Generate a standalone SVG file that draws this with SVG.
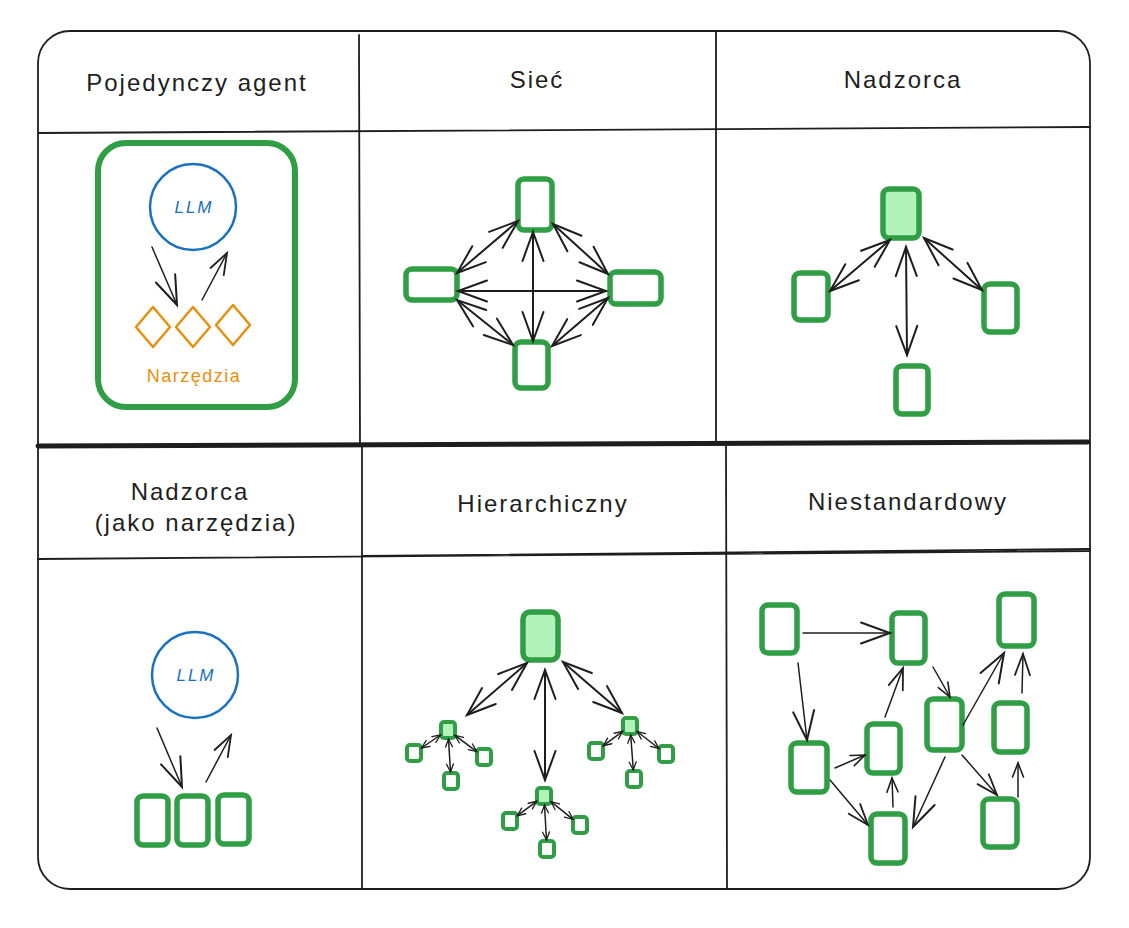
<svg xmlns="http://www.w3.org/2000/svg" width="1129" height="928" viewBox="0 0 1129 928">
<style>
.frame{fill:none;stroke:#1e1e1e;stroke-width:1.8;stroke-linecap:round}
.title{font-family:"Liberation Sans",Arial,sans-serif;font-size:24px;letter-spacing:2px;fill:#1e1e1e;text-anchor:middle}
.node{fill:#ffffff;stroke:#2f9e44;stroke-width:5.5;stroke-linejoin:round}
.node.main{fill:#b2f2bb}
.mini{fill:#ffffff;stroke:#2f9e44;stroke-width:4}
.mini.main{fill:#b2f2bb}
.llm{fill:none;stroke:#1971c2;stroke-width:2.5}
.llmt{font-family:"Liberation Sans",Arial,sans-serif;font-size:17px;font-style:italic;letter-spacing:2px;fill:#1971c2;text-anchor:middle}
.tool{fill:none;stroke:#e8900c;stroke-width:2.5;stroke-linejoin:round}
.toolt{font-family:"Liberation Sans",Arial,sans-serif;font-size:18px;letter-spacing:1.5px;fill:#e8900c;text-anchor:middle}
.e{fill:none;stroke:#1e1e1e;stroke-width:2;stroke-linecap:round}
.e2{fill:none;stroke:#1e1e1e;stroke-width:1.5;stroke-linecap:round}
</style>
<defs>
<marker id="ah-lg" markerUnits="userSpaceOnUse" markerWidth="1" markerHeight="1" refX="0" refY="0" orient="auto-start-reverse" overflow="visible"><path d="M-29 -10.5 L0 0 L-29 10.5" fill="none" stroke="#1e1e1e" stroke-width="2" stroke-linecap="round"/></marker>
<marker id="ah-md" markerUnits="userSpaceOnUse" markerWidth="1" markerHeight="1" refX="0" refY="0" orient="auto-start-reverse" overflow="visible"><path d="M-21 -7.5 L0 0 L-21 7.5" fill="none" stroke="#1e1e1e" stroke-width="1.8" stroke-linecap="round"/></marker>
<marker id="ah-sm" markerUnits="userSpaceOnUse" markerWidth="1" markerHeight="1" refX="0" refY="0" orient="auto-start-reverse" overflow="visible"><path d="M-14 -5.5 L0 0 L-14 5.5" fill="none" stroke="#1e1e1e" stroke-width="1.6" stroke-linecap="round"/></marker>
<marker id="ah-xs" markerUnits="userSpaceOnUse" markerWidth="1" markerHeight="1" refX="0" refY="0" orient="auto-start-reverse" overflow="visible"><path d="M-8 -3.5 L0 0 L-8 3.5" fill="none" stroke="#1e1e1e" stroke-width="1.3" stroke-linecap="round"/></marker>
</defs>
<rect width="1129" height="928" fill="#ffffff"/>

<g id="frame">
<rect class="frame" x="38" y="31" width="1052" height="858" rx="32"/>
<path class="frame" d="M359 35 L360 444 M362 446 L362 889 M716 31 L716 444 M726 446 L727 889"/>
<path class="frame" d="M38 133 L1090 127"/>
<path class="frame" d="M38 446 L1088 442" style="stroke-width:5"/>
<path class="frame" d="M38 559 L1090 551 M362 556 L1090 549"/>
</g>

<g id="titles">
<text class="title" x="197" y="91">Pojedynczy agent</text>
<text class="title" x="537" y="88">Sieć</text>
<text class="title" x="903" y="88">Nadzorca</text>
<text class="title" x="190" y="500">Nadzorca</text>
<text class="title" x="196" y="531">(jako narzędzia)</text>
<text class="title" x="543" y="512">Hierarchiczny</text>
<text class="title" x="908" y="510">Niestandardowy</text>
</g>

<!-- Pojedynczy agent -->
<g id="single-agent">
<rect x="98" y="143" width="197" height="264" rx="28" fill="none" stroke="#2f9e44" stroke-width="6"/>
</g>
<g id="single-llm">
<circle class="llm" cx="193" cy="207" r="43"/>
<text class="llmt" x="194" y="213">LLM</text>
</g>
<g id="single-tools">
<path class="tool" d="M153 307 L170 327 L153 347 L136 327 Z"/>
<path class="tool" d="M193 307 L210 327 L193 347 L176 327 Z"/>
<path class="tool" d="M233 305 L250 325 L233 345 L216 325 Z"/>
<text class="toolt" x="194" y="382">Narzędzia</text>
</g>

<!-- Sieć -->
<g id="siec-top"><rect class="node" x="518" y="179" width="34" height="51" rx="6"/></g>
<g id="siec-left"><rect class="node" x="406" y="269" width="51" height="31" rx="6"/></g>
<g id="siec-right"><rect class="node" x="610" y="272" width="51" height="32" rx="6"/></g>
<g id="siec-bottom"><rect class="node" x="515" y="342" width="33" height="46" rx="6"/></g>

<!-- Nadzorca -->
<g id="nadz-top"><rect class="node main" x="883" y="189" width="36" height="49" rx="6"/></g>
<g id="nadz-left"><rect class="node" x="794" y="273" width="34" height="47" rx="6"/></g>
<g id="nadz-right"><rect class="node" x="984" y="284" width="33" height="48" rx="6"/></g>
<g id="nadz-bottom"><rect class="node" x="896" y="366" width="32" height="48" rx="6"/></g>

<!-- Nadzorca (jako narzędzia) -->
<g id="nt-llm">
<circle class="llm" cx="195" cy="675" r="43"/>
<text class="llmt" x="196" y="681">LLM</text>
</g>
<g id="nt-a1"><rect class="node" x="137" y="796" width="31" height="49" rx="6"/></g>
<g id="nt-a2"><rect class="node" x="177" y="796" width="31" height="49" rx="6"/></g>
<g id="nt-a3"><rect class="node" x="218" y="795" width="31" height="49" rx="6"/></g>

<!-- Hierarchiczny -->
<g id="h-root"><rect class="node main" x="523" y="612" width="35" height="48" rx="7"/></g>
<g id="h-l"><rect class="mini main" x="441" y="722" width="14" height="16" rx="3"/></g>
<g id="h-l1"><rect class="mini" x="407" y="745" width="14" height="16" rx="3"/></g>
<g id="h-l2"><rect class="mini" x="444" y="773" width="14" height="16" rx="3"/></g>
<g id="h-l3"><rect class="mini" x="477" y="749" width="14" height="16" rx="3"/></g>
<g id="h-m"><rect class="mini main" x="537" y="788" width="14" height="16" rx="3"/></g>
<g id="h-m1"><rect class="mini" x="503" y="813" width="14" height="16" rx="3"/></g>
<g id="h-m2"><rect class="mini" x="540" y="841" width="14" height="16" rx="3"/></g>
<g id="h-m3"><rect class="mini" x="573" y="817" width="14" height="16" rx="3"/></g>
<g id="h-r"><rect class="mini main" x="623" y="718" width="14" height="16" rx="3"/></g>
<g id="h-r1"><rect class="mini" x="589" y="743" width="14" height="16" rx="3"/></g>
<g id="h-r2"><rect class="mini" x="627" y="771" width="14" height="16" rx="3"/></g>
<g id="h-r3"><rect class="mini" x="659" y="746" width="14" height="16" rx="3"/></g>

<!-- Niestandardowy -->
<g id="c-a"><rect class="node" x="762" y="605" width="35" height="48" rx="6"/></g>
<g id="c-b"><rect class="node" x="892" y="613" width="33" height="50" rx="6"/></g>
<g id="c-c"><rect class="node" x="999" y="594" width="35" height="52" rx="6"/></g>
<g id="c-d"><rect class="node" x="791" y="743" width="36" height="49" rx="6"/></g>
<g id="c-e"><rect class="node" x="867" y="724" width="33" height="49" rx="6"/></g>
<g id="c-f"><rect class="node" x="927" y="699" width="35" height="51" rx="6"/></g>
<g id="c-g"><rect class="node" x="994" y="703" width="33" height="49" rx="6"/></g>
<g id="c-h"><rect class="node" x="871" y="814" width="34" height="49" rx="6"/></g>
<g id="c-i"><rect class="node" x="983" y="799" width="34" height="48" rx="6"/></g>

<g id="connectors">
<!-- single agent -->
<path class="e2" d="M152 247 L177 305" marker-end="url(#ah-lg)"/>
<path class="e2" d="M202 300 L227 253" marker-end="url(#ah-md)"/>
<!-- Sieć -->
<path class="e" d="M457 273 L518 221" marker-start="url(#ah-lg)" marker-end="url(#ah-lg)"/>
<path class="e" d="M553 224 L608 274" marker-start="url(#ah-lg)" marker-end="url(#ah-lg)"/>
<path class="e" d="M608 298 L552 346" marker-start="url(#ah-lg)" marker-end="url(#ah-lg)"/>
<path class="e" d="M513 345 L457 300" marker-start="url(#ah-lg)" marker-end="url(#ah-lg)"/>
<path class="e" d="M458 291 L606 291" marker-start="url(#ah-lg)" marker-end="url(#ah-lg)"/>
<path class="e" d="M533 232 L533 341" marker-start="url(#ah-lg)" marker-end="url(#ah-lg)"/>
<!-- Nadzorca -->
<path class="e" d="M890 240 L830 291" marker-start="url(#ah-lg)" marker-end="url(#ah-lg)"/>
<path class="e" d="M924 238 L982 290" marker-start="url(#ah-lg)" marker-end="url(#ah-lg)"/>
<path class="e" d="M906 247 L907 355" marker-start="url(#ah-lg)" marker-end="url(#ah-lg)"/>
<!-- Nadzorca (jako narzędzia) -->
<path class="e2" d="M157 728 L182 787" marker-end="url(#ah-lg)"/>
<path class="e2" d="M206 782 L231 735" marker-end="url(#ah-md)"/>
<!-- Hierarchiczny -->
<path class="e" d="M527 663 L467 715" marker-start="url(#ah-lg)" marker-end="url(#ah-lg)"/>
<path class="e" d="M545 670 L545 780" marker-start="url(#ah-lg)" marker-end="url(#ah-lg)"/>
<path class="e" d="M563 662 L622 713" marker-start="url(#ah-lg)" marker-end="url(#ah-lg)"/>
<path class="e2" d="M440.5 735 L421.5 748" marker-start="url(#ah-xs)" marker-end="url(#ah-xs)"/>
<path class="e2" d="M448.5 739 L450.5 772" marker-start="url(#ah-xs)" marker-end="url(#ah-xs)"/>
<path class="e2" d="M455 735.4 L476.8 751.6" marker-start="url(#ah-xs)" marker-end="url(#ah-xs)"/>
<path class="e2" d="M536.7 801.3 L517.3 815.7" marker-start="url(#ah-xs)" marker-end="url(#ah-xs)"/>
<path class="e2" d="M544.5 805 L546.5 840" marker-start="url(#ah-xs)" marker-end="url(#ah-xs)"/>
<path class="e2" d="M551 801.7 L573 819.3" marker-start="url(#ah-xs)" marker-end="url(#ah-xs)"/>
<path class="e2" d="M622.7 731.3 L603.3 745.7" marker-start="url(#ah-xs)" marker-end="url(#ah-xs)"/>
<path class="e2" d="M630.7 735 L633.3 770" marker-start="url(#ah-xs)" marker-end="url(#ah-xs)"/>
<path class="e2" d="M637.1 731.5 L658.9 748.5" marker-start="url(#ah-xs)" marker-end="url(#ah-xs)"/>
<!-- Niestandardowy -->
<path class="e2" d="M803 633 L890 633" marker-end="url(#ah-lg)"/>
<path class="e2" d="M798 663 L807 740" marker-end="url(#ah-lg)"/>
<path class="e2" d="M835 768 L865 755" marker-end="url(#ah-sm)"/>
<path class="e2" d="M830 780 L868 825" marker-end="url(#ah-md)"/>
<path class="e2" d="M893 807 L892 778" marker-end="url(#ah-sm)"/>
<path class="e2" d="M885 717 L903 668" marker-end="url(#ah-md)"/>
<path class="e2" d="M933 667 L950 697" marker-end="url(#ah-sm)"/>
<path class="e2" d="M945 757 L913 827" marker-end="url(#ah-lg)"/>
<path class="e2" d="M963 725 L1004 653" marker-end="url(#ah-lg)"/>
<path class="e2" d="M962 755 L997 795" marker-end="url(#ah-md)"/>
<path class="e2" d="M1018 797 L1018 763" marker-end="url(#ah-sm)"/>
<path class="e2" d="M1022 693 L1023 654" marker-end="url(#ah-md)"/>
</g>
</svg>
